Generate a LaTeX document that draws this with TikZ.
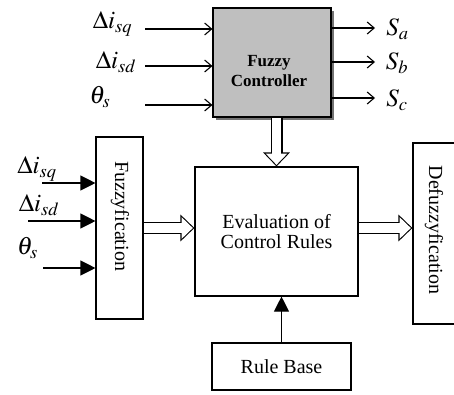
\documentclass[tikz,border=0pt]{standalone}
\usepackage{mathptmx}
\usepackage{fontspec}
\setmainfont{Liberation Serif}
\usetikzlibrary{arrows.meta,shadows,positioning}

\begin{document}
\begin{tikzpicture}[
    x=1pt, y=-1pt,
    % Stili
    box/.style={
        rectangle, draw, line width=1.1pt, inner sep=0pt
    },
    boxtext/.style={
        font=\fontsize{20}{20}\selectfont, align=center, inner sep=0pt
    },
    mlabel/.style={
        font=\fontsize{25}{25}\selectfont, inner sep=0pt
    },
    barb/.style={-{Straight Barb[length=7pt,width=12pt]}, line width=1.1pt},
    tri/.style={-{Triangle[length=15pt,width=15pt]}, line width=1.1pt},
    hollow/.style={
        line width=12pt, -{Triangle[length=14pt,width=26pt]},
        postaction={draw=white, line width=9.8pt,
            -{Triangle[length=11.3pt,width=21pt]},
            shorten >=1.6pt, shorten <=0.7pt}
    }
]
\clip (0,0) rectangle (454,394);

% Fuzzy Controller (sopra)
\node[box, fill=black!25, minimum width=118pt, minimum height=109pt,
      drop shadow={shadow xshift=3pt, shadow yshift=-3pt, fill=black!55, opacity=1}]
      (ctrl) at (272,62.5) {};
\node[font=\fontsize{17}{20}\selectfont\bfseries, align=center] (ctrltext) at (269,71) {Fuzzy\\Controller};

% Blocchi
\node[box, minimum width=163pt, minimum height=129pt] (eval) at (276.5,231.5) {};
\node[boxtext] (evaltext) at (276.5,232) {Evaluation of\\Control Rules};

\node[box, minimum width=47pt, minimum height=182pt] (fuzz) at (119.5,228) {};
\node[boxtext, rotate=-90] (fuzztext) at (120,216) {Fuzzyfication};

\node[box, minimum width=48pt, minimum height=181pt] (defuzz) at (437,233.5) {};
\node[boxtext, rotate=-90] (defuzztext) at (434,230) {Defuzzyfication};

\node[box, minimum width=139pt, minimum height=47pt] (rules) at (281.5,366.5) {};
\node[boxtext] (rulestext) at (281.5,366.5) {Rule Base};

% Ingressi del controller
\node[mlabel] (tsq) at (112.5,24) {$\Delta i_{sq}$};
\node[mlabel] (tsd) at (116,62) {$\Delta i_{sd}$};
\node[mlabel] (tth) at (100,97) {$\theta_s$};
\foreach \n/\y in {1/29,2/66,3/105} {
    \coordinate (cin\n) at (145,\y);
    \draw[barb] (cin\n) -- (cin\n -| ctrl.west);
}

% Uscite
\node[mlabel] (sa) at (397.5,29) {$S_a$};
\node[mlabel] (sb) at (397,63) {$S_b$};
\node[mlabel] (sc) at (397,100) {$S_c$};
\foreach \n/\y in {1/28,2/62,3/98} {
    \coordinate (cout\n) at (375,\y);
    \draw[barb] (cout\n -| ctrl.east) -- (cout\n);
}

% Ingressi della fuzzyfication
\node[mlabel] (lsq) at (37,169) {$\Delta i_{sq}$};
\node[mlabel] (lsd) at (39,205) {$\Delta i_{sd}$};
\node[mlabel] (lth) at (27.5,248) {$\theta_s$};
\foreach \n/\x/\y in {1/42/183,2/28/221,3/43/268} {
    \coordinate (fin\n) at (\x,\y);
    \draw[tri] (fin\n) -- (fin\n -| fuzz.west);
}

% Frecce doppie
\draw[hollow] (fuzz.east) -- (fuzz.east -| eval.west);
\draw[hollow] ([yshift=3.5pt]eval.east) -- ([yshift=3.5pt]eval.east -| defuzz.west);
\draw[hollow] (ctrl.south -| eval.north) -- (eval.north);
\draw[tri] (rules.north) -- (rules.north |- eval.south);

\end{tikzpicture}
\end{document}
